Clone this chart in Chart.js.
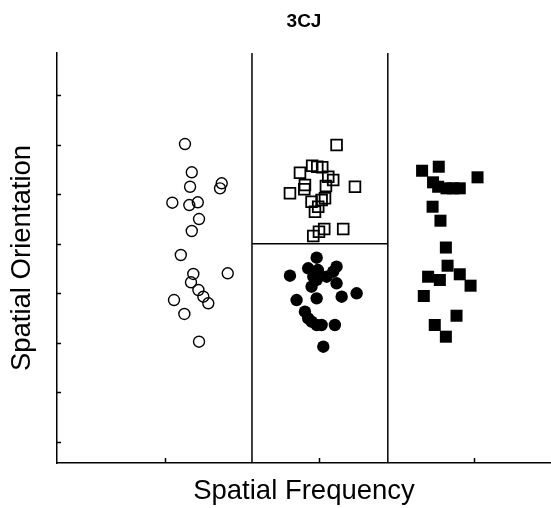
<!DOCTYPE html>
<html>
<head>
<meta charset="utf-8">
<script src="https://cdn.jsdelivr.net/npm/chart.js@4/dist/chart.umd.min.js"></script>
<style>
  body { margin: 0; background: #fff; }
  #wrap { width: 551px; height: 508px; }
</style>
</head>
<body>
<div id="wrap"><canvas id="grafik" width="551" height="508"></canvas></div>
<script>
// group positions on the x axis: 1, 2, 3
const xTicks = [1, 2, 3];
const yTicks = [10, 20, 30, 40, 50, 60, 70, 80];
const xMin = 0.3, xMax = 3.5;
const yMin = 5.76, yMax = 88.47;

// split lines between the groups
const dividers = [1.563, 2.443];
const splitY = 50;

const openCircles = [
  [1.129, 70.11], [1.173, 64.40], [1.162, 61.49], [1.367, 62.18], [1.356, 61.17],
  [1.047, 58.27], [1.157, 57.80], [1.212, 58.35], [1.220, 54.98], [1.173, 52.56],
  [1.102, 47.72], [1.406, 44.03], [1.183, 43.89], [1.168, 42.21], [1.216, 40.66],
  [1.248, 39.31], [1.280, 37.98], [1.058, 38.64], [1.125, 35.82], [1.220, 30.23]
];

const openSquares = [
  [2.111, 69.90], [1.953, 65.73], [1.986, 65.53], [2.018, 65.41], [1.874, 64.32],
  [2.057, 63.51], [2.089, 62.85], [1.906, 61.84], [1.902, 60.97], [1.809, 60.16],
  [2.230, 61.49], [2.036, 59.15], [2.014, 58.81], [1.949, 58.47], [1.992, 57.46],
  [1.971, 56.45], [2.154, 52.96], [2.031, 52.96], [1.997, 52.42], [1.960, 51.55],
  [2.042, 61.64]
];

const filledCircles = [
  [1.982, 47.17], [1.809, 43.54], [1.927, 45.04], [2.111, 45.36], [2.089, 44.35],
  [1.960, 43.34], [1.982, 42.68], [2.047, 43.34], [2.111, 42.01], [1.949, 41.32],
  [1.982, 38.98], [1.852, 38.64], [2.144, 39.31], [2.241, 39.99], [1.906, 36.28],
  [1.927, 34.95], [1.949, 34.26], [1.982, 33.60], [2.014, 33.60], [2.100, 33.60],
  [2.025, 29.22], [1.990, 44.69]
];

const filledSquares = [
  [2.665, 64.72], [2.773, 65.53], [3.024, 63.39], [2.736, 62.38], [2.769, 61.49],
  [2.823, 61.17], [2.866, 61.17], [2.909, 61.17], [2.733, 57.46], [2.784, 54.64],
  [2.819, 49.23], [2.830, 45.56], [2.704, 43.34], [2.780, 42.68], [2.909, 43.83],
  [2.979, 41.53], [2.676, 39.45], [2.888, 35.47], [2.747, 33.60], [2.819, 31.24]
];

const toPts = (arr) => arr.map(([x, y]) => ({ x: x, y: y }));

function lineSet(data) {
  return {
    data: data,
    showLine: true,
    borderColor: "#000",
    borderWidth: 1.5,
    pointRadius: 0,
    fill: false,
  };
}

// inward tick marks, like the original plot
const innerTicks = {
  id: "innerTicks",
  afterDraw(chart) {
    const ctx = chart.ctx;
    const xs = chart.scales.x;
    const ys = chart.scales.y;
    const area = chart.chartArea;
    ctx.save();
    ctx.strokeStyle = "#000";
    ctx.lineWidth = 1.5;
    ctx.beginPath();
    yTicks.forEach((v) => {
      const py = Math.round(ys.getPixelForValue(v)) + 0.5;
      ctx.moveTo(area.left, py);
      ctx.lineTo(area.left + 4, py);
    });
    xTicks.forEach((v) => {
      const px = Math.round(xs.getPixelForValue(v)) + 0.5;
      ctx.moveTo(px, area.bottom);
      ctx.lineTo(px, area.bottom - 5);
    });
    ctx.stroke();
    ctx.restore();
  },
};

const fontName = "Liberation Sans, Arial, sans-serif";

const grafik = new Chart(document.getElementById("grafik").getContext("2d"), {
  type: "scatter",
  data: {
    datasets: [
      lineSet([{ x: dividers[0], y: yMin }, { x: dividers[0], y: yMax }]),
      lineSet([{ x: dividers[1], y: yMin }, { x: dividers[1], y: yMax }]),
      lineSet([{ x: dividers[0], y: splitY }, { x: dividers[1], y: splitY }]),
      {
        data: toPts(openCircles),
        pointStyle: "circle",
        pointRadius: 5.5,
        borderWidth: 1.4,
        borderColor: "#000",
        backgroundColor: "rgba(0,0,0,0)",
      },
      {
        data: toPts(openSquares),
        pointStyle: "rect",
        pointRadius: 7.6,
        borderWidth: 1.8,
        borderColor: "#000",
        backgroundColor: "rgba(0,0,0,0)",
      },
      {
        data: toPts(filledCircles),
        pointStyle: "circle",
        pointRadius: 6.2,
        borderWidth: 0,
        borderColor: "#000",
        backgroundColor: "#000",
      },
      {
        data: toPts(filledSquares),
        pointStyle: "rect",
        pointRadius: 8.5,
        borderWidth: 0,
        borderColor: "#000",
        backgroundColor: "#000",
      },
    ],
  },
  options: {
    responsive: false,
    animation: false,
    layout: { autoPadding: false, padding: 0 },
    plugins: {
      legend: { display: false },
      tooltip: { enabled: false },
    },
    scales: {
      // top axis only carries the chart title, centred over the plot area
      judul: {
        type: "linear",
        position: "top",
        axis: "x",
        min: xMin,
        max: xMax,
        grid: { display: false, drawTicks: false },
        border: { display: false },
        ticks: { display: false },
        title: {
          display: true,
          text: "3CJ",
          color: "#000",
          font: { family: fontName, size: 19, weight: "bold" },
          padding: { top: 10.6, bottom: 19.6 },
        },
      },
      x: {
        type: "linear",
        min: xMin,
        max: xMax,
        grid: { display: false, drawTicks: false },
        border: { display: true, color: "#000", width: 1.5 },
        ticks: { display: false },
        title: {
          display: true,
          text: "Spatial Frequency",
          color: "#000",
          font: { family: fontName, size: 27.5 },
          padding: { top: 12, bottom: 0 },
        },
      },
      y: {
        type: "linear",
        min: yMin,
        max: yMax,
        grid: { display: false, drawTicks: false },
        border: { display: true, color: "#000", width: 1.5 },
        ticks: { display: false },
        title: {
          display: true,
          text: "Spatial Orientation",
          color: "#000",
          font: { family: fontName, size: 27.5 },
          padding: { top: 5.5, bottom: 18.5 },
        },
      },
    },
  },
  plugins: [innerTicks],
});
</script>
</body>
</html>
